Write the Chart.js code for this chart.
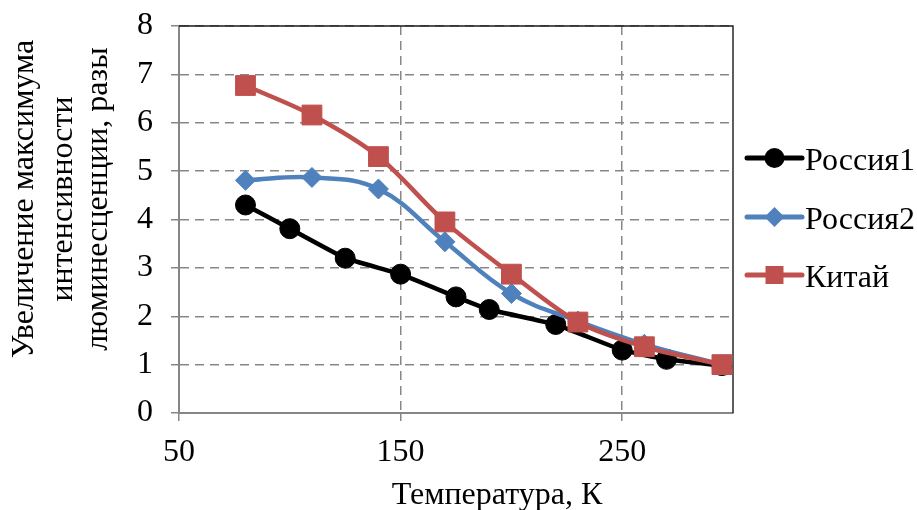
<!DOCTYPE html>
<html>
<head>
<meta charset="utf-8">
<script src="https://cdn.jsdelivr.net/npm/chart.js@4.4.1/dist/chart.umd.min.js"></script>
<style>
  html, body { margin: 0; padding: 0; background: #ffffff; }
  #wrap { width: 917px; height: 510px; position: relative; }
</style>
</head>
<body>
<div id="wrap"><canvas id="chart"></canvas></div>
<script>
// Temperatures (K) at which each sample was measured
const temperaturesRussia1 = [80, 100, 125, 150, 175, 190, 220, 250, 270, 295];
const temperaturesOther   = [80, 110, 140, 170, 200, 230, 260, 295];

// Growth of the luminescence intensity maximum, times
const russia1 = [4.30, 3.81, 3.20, 2.87, 2.40, 2.14, 1.83, 1.30, 1.11, 0.98];
const russia2 = [4.81, 4.87, 4.63, 3.54, 2.47, 1.90, 1.42, 1.00];
const china   = [6.77, 6.16, 5.30, 3.95, 2.87, 1.88, 1.37, 1.00];

const seriesNames = ['Россия1', 'Россия2', 'Китай'];
const xTickValues = [50, 150, 250];
const xTitle = 'Температура, К';
const yTitleLines = ['Увеличение максимума', 'интенсивности', 'люминесценции, разы'];

const FONT = '"Liberation Serif", "Times New Roman", serif';
const FONT_SIZE = 32;
const GRID = '#878787';

const toPoints = (xs, ys) => xs.map((x, i) => ({ x: x, y: ys[i] }));

// Top and right edges of the plot frame
const framePlugin = {
  id: 'frame',
  beforeDatasetsDraw(chart) {
    const { ctx, chartArea: a } = chart;
    ctx.save();
    ctx.strokeStyle = '#1a1a1a';
    ctx.lineWidth = 1.4;
    ctx.beginPath();
    ctx.moveTo(a.left, a.top);
    ctx.lineTo(a.right, a.top);
    ctx.lineTo(a.right, a.bottom);
    ctx.stroke();
    ctx.restore();
  }
};

// Axis titles
const titlesPlugin = {
  id: 'axisTitles',
  afterDraw(chart) {
    const ctx = chart.ctx;
    ctx.save();
    ctx.fillStyle = '#000';
    ctx.font = FONT_SIZE + 'px ' + FONT;
    ctx.textAlign = 'center';
    ctx.textBaseline = 'alphabetic';
    ctx.fillText(xTitle, 497, 504);

    const baselines = [33, 72, 107];
    yTitleLines.forEach((line, i) => {
      ctx.save();
      ctx.translate(baselines[i], 199);
      ctx.rotate(-Math.PI / 2);
      ctx.fillText(line, 0, 0);
      ctx.restore();
    });
    ctx.restore();
  }
};

// Legend with a line sample and marker for each series
const legendPlugin = {
  id: 'sideLegend',
  afterDraw(chart) {
    const ctx = chart.ctx;
    const rows = [158, 217, 275];
    const x0 = 747, x1 = 802, xm = (x0 + x1) / 2;
    ctx.save();
    chart.data.datasets.forEach((ds, i) => {
      const y = rows[i];
      ctx.strokeStyle = ds.borderColor;
      ctx.fillStyle = ds.borderColor;
      ctx.lineWidth = 5;
      ctx.lineCap = 'round';
      ctx.beginPath();
      ctx.moveTo(x0, y);
      ctx.lineTo(x1, y);
      ctx.stroke();
      ctx.beginPath();
      if (ds.pointStyle === 'circle') {
        ctx.arc(xm, y, 10, 0, Math.PI * 2);
      } else if (ds.pointStyle === 'rectRot') {
        ctx.moveTo(xm, y - 10);
        ctx.lineTo(xm + 10, y);
        ctx.lineTo(xm, y + 10);
        ctx.lineTo(xm - 10, y);
        ctx.closePath();
      } else {
        ctx.rect(xm - 9, y - 9, 18, 18);
      }
      ctx.fill();
      ctx.fillStyle = '#000';
      ctx.font = FONT_SIZE + 'px ' + FONT;
      ctx.textAlign = 'left';
      ctx.textBaseline = 'alphabetic';
      ctx.fillText(ds.label, 805, y + 12);
    });
    ctx.restore();
  }
};

new Chart(document.getElementById('chart'), {
  type: 'line',
  data: {
    datasets: [
      {
        label: seriesNames[0],
        data: toPoints(temperaturesRussia1, russia1),
        borderColor: '#000000',
        backgroundColor: '#000000',
        borderWidth: 4.5,
        pointStyle: 'circle',
        pointRadius: 10,
        pointBorderWidth: 1,
        tension: 0.1,
        order: 2
      },
      {
        label: seriesNames[1],
        data: toPoints(temperaturesOther, russia2),
        borderColor: '#4F81BD',
        backgroundColor: '#4F81BD',
        borderWidth: 4.5,
        pointStyle: 'rectRot',
        pointRadius: 10,
        pointBorderWidth: 1,
        tension: 0.4,
        order: 1
      },
      {
        label: seriesNames[2],
        data: toPoints(temperaturesOther, china),
        borderColor: '#C0504D',
        backgroundColor: '#C0504D',
        borderWidth: 4.5,
        pointStyle: 'rect',
        pointRadius: 14,
        pointBorderWidth: 1,
        tension: 0.3,
        order: 0
      }
    ]
  },
  options: {
    responsive: true,
    maintainAspectRatio: false,
    animation: false,
    layout: { padding: { top: 26, right: 184, bottom: 0, left: 0 } },
    plugins: {
      legend: { display: false },
      tooltip: { enabled: false },
      title: { display: false }
    },
    scales: {
      x: {
        type: 'linear',
        min: 50,
        max: 300,
        afterBuildTicks: (scale) => { scale.ticks = xTickValues.map(v => ({ value: v })); },
        afterFit: (scale) => {
          scale.height = 97;
          scale.paddingLeft = 0;
          scale.paddingRight = 0;
        },
        ticks: {
          color: '#000',
          font: { family: FONT, size: FONT_SIZE },
          padding: 12,
          maxRotation: 0
        },
        grid: {
          color: GRID,
          lineWidth: 1.5,
          tickLength: 8,
          tickColor: GRID,
          tickBorderDash: []
        },
        border: { display: true, color: '#868686', width: 2, dash: [9, 6] }
      },
      y: {
        type: 'linear',
        min: 0,
        max: 8,
        afterFit: (scale) => {
          scale.width = 179;
          scale.paddingTop = 0;
          scale.paddingBottom = 0;
        },
        ticks: {
          stepSize: 1,
          color: '#000',
          font: { family: FONT, size: FONT_SIZE },
          padding: 18
        },
        grid: {
          color: GRID,
          lineWidth: 1.5,
          tickLength: 8,
          tickColor: GRID,
          tickBorderDash: []
        },
        border: { display: true, color: '#868686', width: 2, dash: [9, 6] }
      }
    }
  },
  plugins: [framePlugin, titlesPlugin, legendPlugin]
});
</script>
</body>
</html>
